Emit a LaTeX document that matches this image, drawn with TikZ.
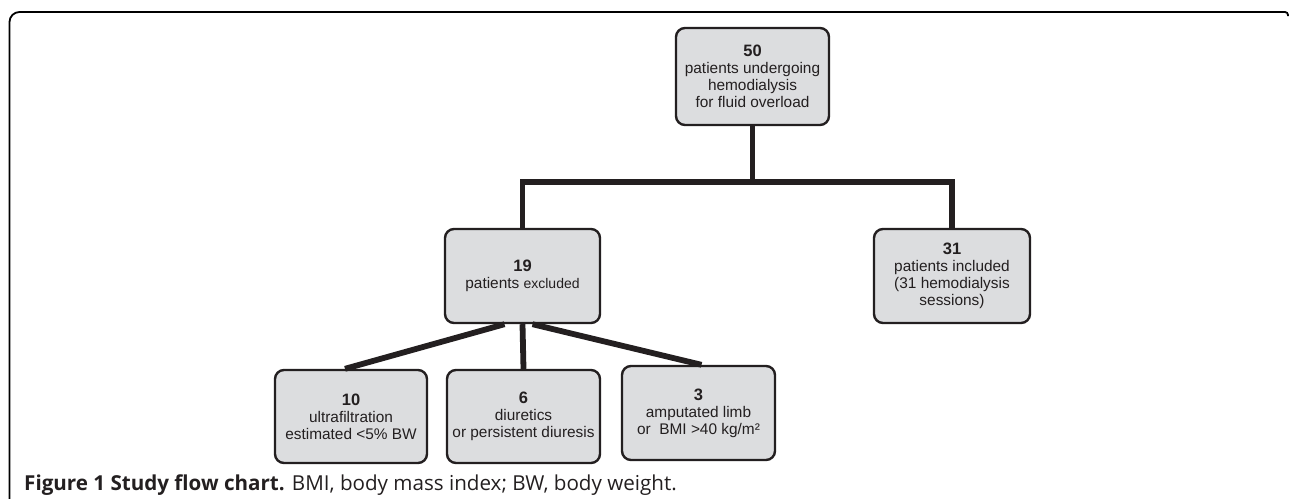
\documentclass[tikz,border=0pt]{standalone}
\usepackage{fontspec}
\setmainfont{Liberation Sans}
\newfontfamily\capfont{Open Sans}
\definecolor{ink}{HTML}{231F20}
\definecolor{boxfill}{HTML}{DCDDDF}
\begin{document}
\begin{tikzpicture}[x=1pt,y=-1pt,
  flowbox/.style={draw=ink,fill=boxfill,line width=2.4pt,rounded corners=9pt,
    align=center,text=ink,inner sep=0pt,
    font=\fontsize{15.4}{17}\selectfont},
  conn/.style={draw=ink,line width=5.8pt},
  frame/.style={draw=black,line width=1.8pt}]
\useasboundingbox (0,0) rectangle (1290,498);
% outer frame
\draw[frame] (9.5,500) [rounded corners=10pt]-- (9.5,12) [rounded corners=3pt]-- (1288,12) -- (1288,16);
% boxes
\node[flowbox,minimum width=153,minimum height=97] (top) at (752.5,76.5)
  {{\fontsize{16.5}{17}\selectfont\textbf{50}}\\patients undergoing\\hemodialysis\\for fluid overload};
\node[flowbox,minimum width=155,minimum height=94] (exc) at (522.5,276)
  {{\fontsize{16.5}{17}\selectfont\textbf{19}}\\patients {\fontsize{14}{17}\selectfont excluded}};
\node[flowbox,minimum width=156,minimum height=94] (inc) at (952,276)
  {{\fontsize{16.5}{17}\selectfont\textbf{31}}\\patients included\\(31 hemodialysis\\sessions)};
\node[flowbox,minimum width=152,minimum height=93] (uf) at (351,416.5)
  {{\fontsize{16.5}{17}\selectfont\textbf{10}}\\ultrafiltration\\estimated <5\% BW};
\node[flowbox,minimum width=153,minimum height=93] (diu) at (523.5,416.5)
  {{\fontsize{16.5}{17}\selectfont\textbf{6}}\\diuretics\\or persistent diuresis};
\node[flowbox,minimum width=153,minimum height=94] (amp) at (698.5,413)
  {{\fontsize{16.5}{17}\selectfont\textbf{3}}\\amputated limb\\or~ BMI >40 kg/m²};
% connectors
\coordinate (j) at (752.5,182);
\draw[conn] (top.south) -- (j);
\draw[conn] (exc.north) |- (j);
\draw[conn] (j) -| (inc.north);
\draw[conn] ([xshift=-18pt]exc.south) -- ([xshift=-6pt]uf.north);
\draw[conn] (exc.south) -- (diu.north);
\draw[conn] ([xshift=10pt]exc.south) -- ([xshift=3pt]amp.north);
% caption
\node[anchor=base west,inner sep=0pt,text=ink,font=\capfont\fontsize{20.6}{24}\selectfont] (cap) at (24,490)
  {\textbf{Figure 1 Study flow chart.} BMI, body mass index; BW, body weight.};
\end{tikzpicture}
\end{document}
